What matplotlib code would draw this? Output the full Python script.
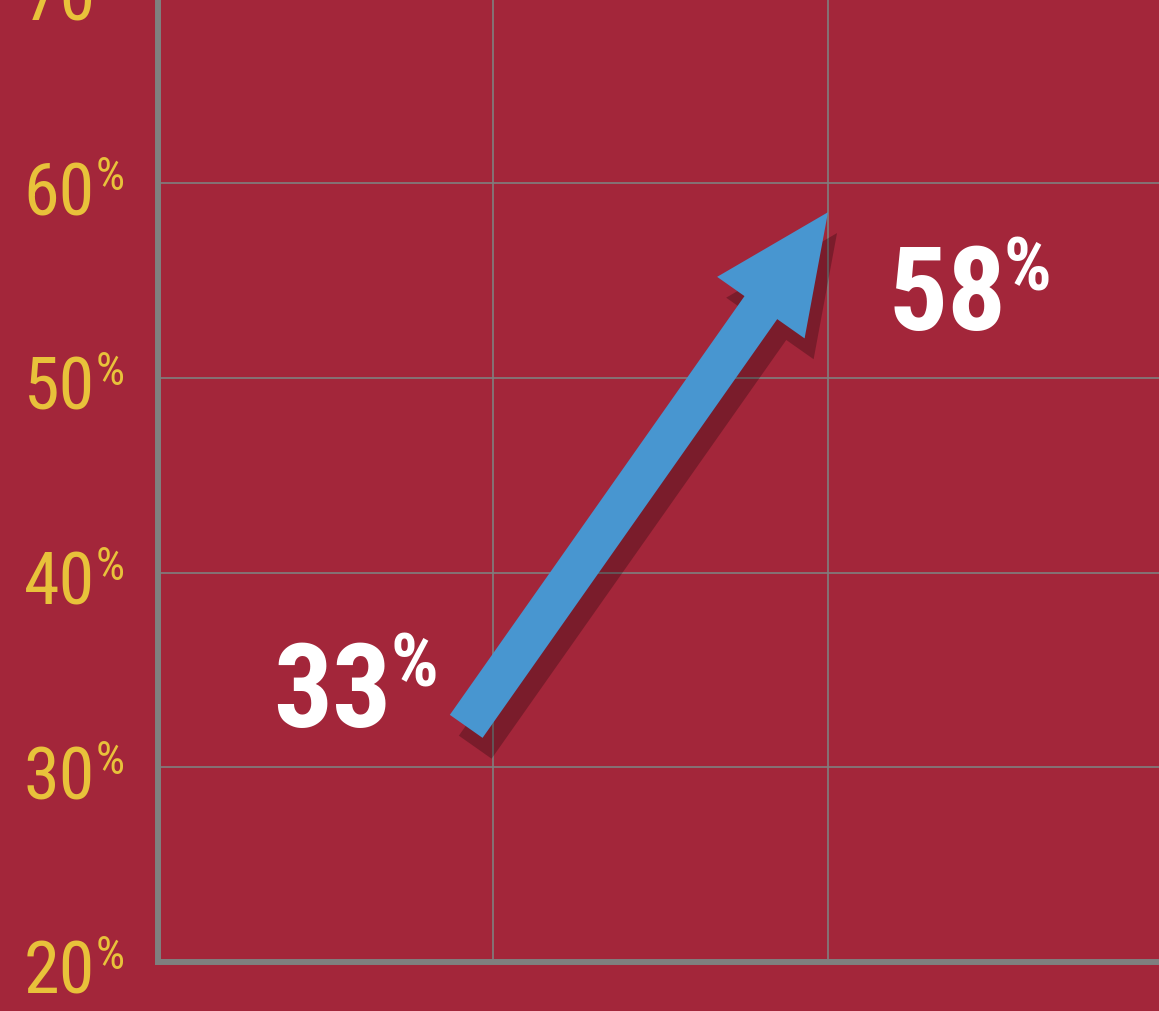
import matplotlib
matplotlib.use("Agg")
import matplotlib.pyplot as plt
from matplotlib.patches import FancyArrowPatch
import matplotlib.patheffects as pe
from matplotlib import font_manager as fm

# ---- data ----
y_ticks = [20, 30, 40, 50, 60, 70]
y_tick_labels = ["20", "30", "40", "50", "60", "70"]
x_ticks = [0, 1, 2, 3]
arrow_x = [0.92, 2.0]
arrow_y = [32.1, 58.5]
value_labels = ["33", "58"]

# ---- style ----
BG = "#A3263A"
GRID = "#7F7F7F"
YELLOW = "#E8C23A"
BLUE = "#4896D0"

ttf = fm.fontManager.ttflist
names = {f.name for f in ttf}
FONT, STRETCH, NARROW = "Roboto", "normal", False
for cand in ["Liberation Sans Narrow", "Roboto Condensed", "Open Sans Condensed",
             "Noto Sans Condensed", "Arial Narrow"]:
    if cand in names:
        FONT, STRETCH, NARROW = cand, "normal", True
        break
else:
    if any(f.name == "DejaVu Sans" and f.stretch == "condensed" for f in ttf):
        FONT, STRETCH, NARROW = "DejaVu Sans", "condensed", True
    elif "Roboto" not in names:
        FONT = "DejaVu Sans"

k = 1.0 if NARROW else 0.9
TICK_FS = 52 * k
TICK_PCT_FS = 33 * k
BIG_FS = 84 * k
BIG_PCT_FS = 54 * k

W, H, DPI = 1159, 1012, 100
fig = plt.figure(figsize=(W / DPI, H / DPI), dpi=DPI, facecolor=BG)
ax = fig.add_axes([158 / W, 49 / H, 1005 / W, 973.75 / H])
ax.set_facecolor(BG)
ax.set_xlim(0, 3)
ax.set_ylim(20, 70)
ax.set_xticks(x_ticks)
ax.set_yticks(y_ticks)
ax.set_xticklabels([])
ax.set_yticklabels([])
ax.tick_params(length=0)
ax.grid(True, color=GRID, lw=1.2, zorder=0)
ax.set_axisbelow(True)
for s in ["top", "right"]:
    ax.spines[s].set_visible(False)
for s in ["left", "bottom"]:
    ax.spines[s].set_color(GRID)
    ax.spines[s].set_linewidth(4.3)
    ax.spines[s].set_zorder(5)
    ax.spines[s].set_capstyle("projecting")

# y tick labels with superscript %
for v, lab in zip(y_ticks, y_tick_labels):
    t = ax.annotate(lab, xy=(0, v), xycoords=("axes fraction", "data"),
                    xytext=(-63, -31), textcoords="offset pixels",
                    ha="right", va="baseline", color=YELLOW,
                    fontsize=TICK_FS, family=FONT, fontstretch=STRETCH,
                    annotation_clip=False)
    ax.annotate("%", xy=(1, v), xycoords=(t, "data"),
                xytext=(1, -6), textcoords="offset pixels",
                ha="left", va="baseline", color=YELLOW,
                fontsize=TICK_PCT_FS, family=FONT, fontstretch=STRETCH,
                annotation_clip=False)

# arrow
arrow = FancyArrowPatch((arrow_x[0], arrow_y[0]), (arrow_x[1], arrow_y[1]),
                        arrowstyle="simple,head_length=8.4,head_width=7.7,tail_width=2.88",
                        mutation_scale=10, shrinkA=0, shrinkB=0,
                        fc=BLUE, ec="none", zorder=3)
arrow.set_path_effects([pe.SimplePatchShadow(offset=(6.5, -15), shadow_rgbFace="black", alpha=0.25),
                        pe.Normal()])
ax.add_patch(arrow)

# value labels
lab_offsets = [(-75, 0), (60, -117)]
pct_dy = [41, 40]
pct_dx = [-1, -3]
for i in range(2):
    t = ax.annotate(value_labels[i], xy=(arrow_x[i], arrow_y[i]), xytext=lab_offsets[i],
                    textcoords="offset pixels", ha="right" if i == 0 else "left",
                    va="baseline", color="white", fontsize=BIG_FS, fontweight="bold",
                    family=FONT, fontstretch=STRETCH, zorder=6)
    ax.annotate("%", xy=(1, arrow_y[i]), xycoords=(t, "data"),
                xytext=(pct_dx[i], lab_offsets[i][1] + pct_dy[i]),
                textcoords="offset pixels", ha="left", va="baseline",
                color="white", fontsize=BIG_PCT_FS, fontweight="bold",
                family=FONT, fontstretch=STRETCH, zorder=6)

fig.savefig("out.png", dpi=DPI, facecolor=BG)
